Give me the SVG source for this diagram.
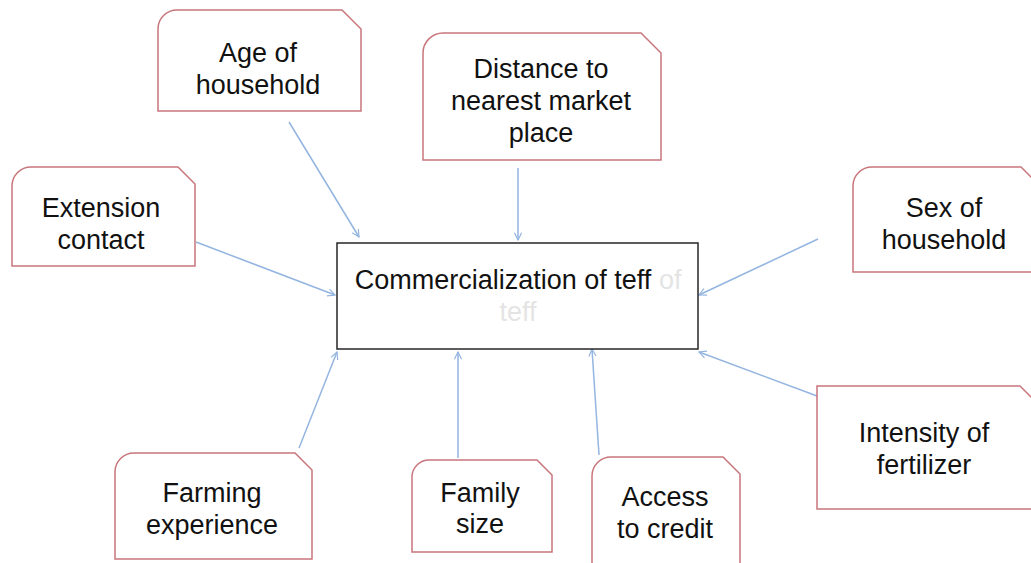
<svg xmlns="http://www.w3.org/2000/svg" width="1031" height="563" viewBox="0 0 1031 563">
  <style>
    .factor { fill: #ffffff; stroke: #c8767b; stroke-width: 1.5; }
    .core { fill: #ffffff; stroke: #262626; stroke-width: 1.5; }
    .label { font-family: "Liberation Sans", Arial, sans-serif; font-size: 27px; fill: #111111; text-anchor: middle; }
    .ghost { font-family: "Liberation Sans", Arial, sans-serif; font-size: 27px; fill: #e4e4e4; }
    .link { stroke: #93b5e0; stroke-width: 1.5; fill: none; marker-end: url(#head); }
  </style>
  <defs>
    <marker id="head" viewBox="0 0 10 10" refX="9" refY="5" markerWidth="9" markerHeight="9" markerUnits="userSpaceOnUse" orient="auto">
      <path d="M1,1 L9,5 L1,9" fill="none" stroke="#93b5e0" stroke-width="1.3"/>
    </marker>
  </defs>
  <rect width="1031" height="563" fill="#ffffff"/>

  <!-- connectors: each factor points at the central box -->
  <g id="connectors">
    <line class="link" x1="289" y1="122" x2="359" y2="237"/>
    <line class="link" x1="518" y1="168" x2="518" y2="240"/>
    <line class="link" x1="196" y1="242" x2="335" y2="295"/>
    <line class="link" x1="818" y1="239" x2="699" y2="295"/>
    <line class="link" x1="817" y1="396" x2="699" y2="352"/>
    <line class="link" x1="299" y1="448" x2="337" y2="352"/>
    <line class="link" x1="458" y1="458" x2="458" y2="352"/>
    <line class="link" x1="599" y1="455" x2="592" y2="349"/>
  </g>

  <!-- factor boxes: rounded top-left, clipped top-right corner -->
  <g id="node-age">
    <path class="factor" d="M158,111 L158,29 A19,19 0 0 1 177,10 L342,10 L361,29 L361,111 Z"/>
    <text class="label" x="258" y="62">Age of</text>
    <text class="label" x="258" y="94">household</text>
  </g>

  <g id="node-distance">
    <path class="factor" d="M423,160 L423,53 A20,20 0 0 1 443,33 L641,33 L661,53 L661,160 Z"/>
    <text class="label" x="541" y="78">Distance to</text>
    <text class="label" x="541" y="110">nearest market</text>
    <text class="label" x="541" y="142">place</text>
  </g>

  <g id="node-extension">
    <path class="factor" d="M12,266 L12,186 A19,19 0 0 1 31,167 L178,167 L195,184 L195,266 Z"/>
    <text class="label" x="101" y="217">Extension</text>
    <text class="label" x="101" y="249">contact</text>
  </g>

  <g id="node-sex">
    <path class="factor" d="M853,272 L853,186 A19,19 0 0 1 872,167 L1021,167 L1038,184 L1038,272 Z"/>
    <text class="label" x="944" y="217">Sex of</text>
    <text class="label" x="944" y="249">household</text>
  </g>

  <g id="node-intensity">
    <path class="factor" d="M817,509 L817,386 L1020,386 L1040,406 L1040,509 Z"/>
    <text class="label" x="924" y="442">Intensity of</text>
    <text class="label" x="924" y="474">fertilizer</text>
  </g>

  <g id="node-farming">
    <path class="factor" d="M115,559 L115,472 A19,19 0 0 1 134,453 L295,453 L312,470 L312,559 Z"/>
    <text class="label" x="212" y="502">Farming</text>
    <text class="label" x="212" y="534">experience</text>
  </g>

  <g id="node-family">
    <path class="factor" d="M412,552 L412,477 A17,17 0 0 1 429,460 L537,460 L552,475 L552,552 Z"/>
    <text class="label" x="480" y="502">Family</text>
    <text class="label" x="480" y="533">size</text>
  </g>

  <g id="node-credit">
    <path class="factor" d="M592,570 L592,476 A19,19 0 0 1 611,457 L723,457 L740,474 L740,570 Z"/>
    <text class="label" x="665" y="506">Access</text>
    <text class="label" x="665" y="538">to credit</text>
  </g>

  <!-- central outcome box -->
  <g id="node-commercialization">
    <rect class="core" x="337" y="243" width="361" height="106"/>
    <text class="ghost" x="659" y="289">of</text>
    <text class="ghost" x="518" y="321" text-anchor="middle">teff</text>
    <text class="label" x="503" y="289">Commercialization of teff</text>
  </g>
</svg>
